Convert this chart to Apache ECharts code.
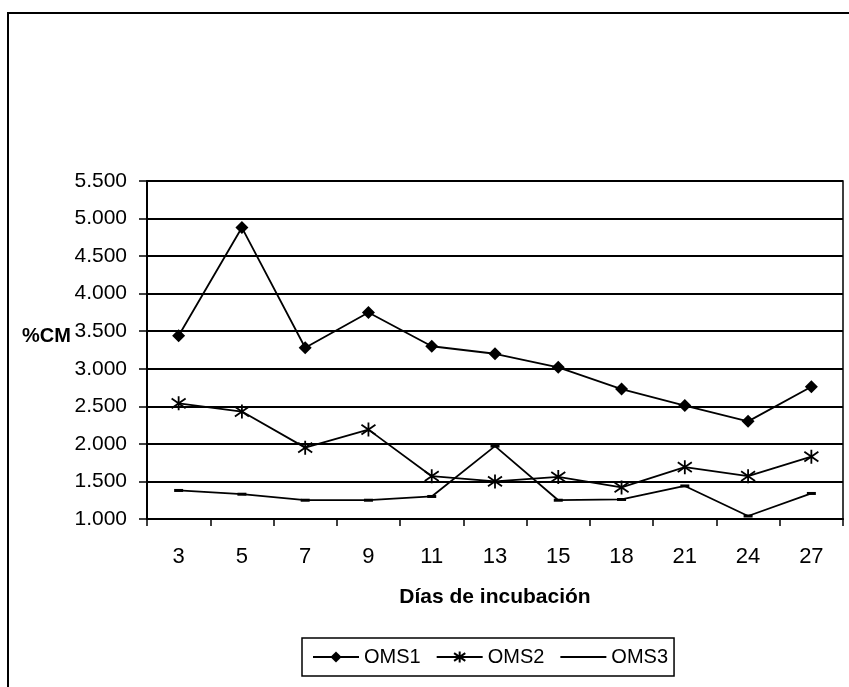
<!DOCTYPE html>
<html>
<head>
<meta charset="utf-8">
<script src="https://cdn.jsdelivr.net/npm/echarts@6/dist/echarts.min.js"></script>
<style>
  html, body { margin: 0; padding: 0; background: #fff; }
  #chart { width: 849px; height: 687px; }
</style>
</head>
<body>
<div id="chart"></div>
<script>
// Incubation days (category axis)
const dias = ['3', '5', '7', '9', '11', '13', '15', '18', '21', '24', '27'];

// %CM per series
const oms1 = [3.44, 4.88, 3.28, 3.75, 3.30, 3.20, 3.02, 2.73, 2.51, 2.30, 2.76];
const oms2 = [2.54, 2.43, 1.95, 2.19, 1.57, 1.50, 1.56, 1.42, 1.69, 1.57, 1.83];
const oms3 = [1.38, 1.33, 1.25, 1.25, 1.30, 1.97, 1.25, 1.26, 1.44, 1.04, 1.34];

// Value axis range
const yMin = 1.0, yMax = 5.5, yStep = 0.5;

const FONT = "'Liberation Sans Narrow', 'Liberation Sans', Arial, sans-serif";
const asterisk = 'path://M5,0 L5,10 M0.7,1.5 L9.3,8.5 M0.7,8.5 L9.3,1.5';

const chart = echarts.init(document.getElementById('chart'), null, { renderer: 'canvas' });

chart.setOption({
  animation: false,
  backgroundColor: '#ffffff',
  textStyle: { fontFamily: FONT, color: '#000' },
  grid: {
    left: 147, right: 6, top: 181, bottom: 168,
    show: true, borderColor: '#000', borderWidth: 1.5
  },
  graphic: [
    { type: 'rect', shape: { x: 8, y: 13, width: 900, height: 720 },
      style: { fill: 'none', stroke: '#000', lineWidth: 2 }, silent: true },
    { type: 'text', left: 22, top: 326,
      style: { text: '%CM', font: 'bold 20px ' + FONT, fill: '#000' } }
  ],
  xAxis: {
    type: 'category',
    data: dias,
    boundaryGap: true,
    axisLine: { lineStyle: { color: '#000', width: 2 } },
    axisTick: { show: true, length: 7, lineStyle: { color: '#000', width: 1.5 } },
    axisLabel: { margin: 27, fontSize: 22, color: '#000', fontFamily: FONT },
    name: 'Días de incubación',
    nameLocation: 'middle',
    nameGap: 68,
    nameTextStyle: { fontSize: 21, fontWeight: 'bold', color: '#000', fontFamily: FONT }
  },
  yAxis: {
    type: 'value',
    min: yMin, max: yMax, interval: yStep,
    axisLine: { show: true, lineStyle: { color: '#000', width: 2 } },
    axisTick: { show: true, length: 8, lineStyle: { color: '#000', width: 1.5 } },
    axisLabel: {
      margin: 20, fontSize: 21, color: '#000', fontFamily: FONT,
      formatter: v => v.toFixed(3)
    },
    splitLine: { show: true, lineStyle: { color: '#000', width: 2 } }
  },
  legend: {
    top: 638,
    left: 302,
    padding: [9, 6, 9, 10],
    borderColor: '#000',
    borderWidth: 1.5,
    itemWidth: 46,
    itemHeight: 14,
    itemGap: 15,
    textStyle: { fontSize: 20, color: '#000', fontFamily: FONT },
    data: ['OMS1', 'OMS2', { name: 'OMS3', itemStyle: { opacity: 0 } }]
  },
  series: [
    {
      name: 'OMS1', type: 'line', data: oms1,
      symbol: 'diamond', symbolSize: 13,
      lineStyle: { color: '#000', width: 1.8 },
      itemStyle: { color: '#000' }
    },
    {
      name: 'OMS2', type: 'line', data: oms2,
      symbol: asterisk, symbolSize: 14,
      lineStyle: { color: '#000', width: 1.8 },
      itemStyle: { color: 'rgba(0,0,0,0)', borderColor: '#000', borderWidth: 1.8 }
    },
    {
      name: 'OMS3', type: 'line', data: oms3,
      symbol: 'rect', symbolSize: [9, 3],
      lineStyle: { color: '#000', width: 1.8 },
      itemStyle: { color: '#000' }
    }
  ]
});
</script>
</body>
</html>
